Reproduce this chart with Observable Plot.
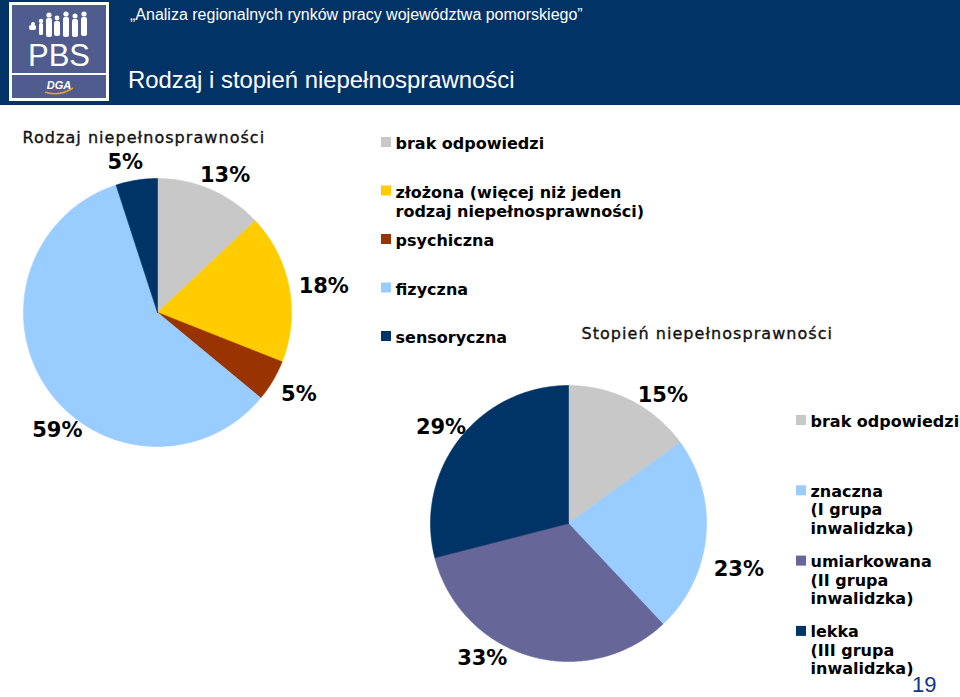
<!DOCTYPE html>
<html>
<head>
<meta charset="utf-8">
<script src="https://cdn.jsdelivr.net/npm/d3@7"></script>
<script src="https://cdn.jsdelivr.net/npm/@observablehq/plot@0.6"></script>
<style>
  body { margin: 0; background: #fff; }
  #slide { position: relative; width: 960px; height: 697px; overflow: hidden; background: #fff; }
  #band { position: absolute; left: 0; top: 0; width: 960px; height: 105px; background: #023366; }
  #logo { position: absolute; left: 9px; top: 2px; }
  .hdr { position: absolute; color: #fff; font-family: "Liberation Sans", Arial, sans-serif; white-space: nowrap; }
  #hdr1 { left: 130px; top: 6px; font-size: 16px; }
  #hdr2 { left: 128px; top: 66px; font-size: 23.9px; }
  #pageno { position: absolute; left: 912px; top: 672px; font-family: "Liberation Sans", Arial, sans-serif; font-size: 22px; color: #12358a; }
  #chart { position: absolute; left: 0; top: 0; }
</style>
</head>
<body>
<div id="slide">
  <div id="band"></div>
  <svg id="logo" width="101" height="100" viewBox="0 0 101 100">
    <rect x="1.5" y="1.5" width="97" height="96" fill="#4f5c8d" stroke="#fff" stroke-width="3"/>
    <line x1="3" y1="72" x2="97" y2="72" stroke="#fff" stroke-width="2"/>
    <g fill="#fff">
      <circle cx="24" cy="22" r="2"/><rect x="20" y="23" width="7" height="5" rx="2"/>
      <circle cx="32" cy="19" r="2.2"/><rect x="30" y="21" width="4" height="12" rx="1.5"/>
      <circle cx="40" cy="13" r="2.6"/><rect x="37" y="16" width="6" height="19" rx="2"/>
      <circle cx="48" cy="16" r="2.4"/><rect x="45" y="19" width="6" height="15" rx="2"/>
      <circle cx="57" cy="12" r="2.6"/><rect x="54" y="15" width="6" height="20" rx="2"/>
      <circle cx="66" cy="14" r="2.5"/><rect x="63" y="17" width="6" height="18" rx="2"/>
      <circle cx="75" cy="12" r="2.6"/><rect x="72" y="15" width="6" height="19" rx="2"/>
    </g>
    <text x="50" y="64" text-anchor="middle" fill="#fff" font-family="Liberation Sans, Arial, sans-serif" font-size="31">PBS</text>
    <path d="M36 90 Q50 95 64 86" fill="none" stroke="#e8a020" stroke-width="1.6"/>
    <text x="50" y="87" text-anchor="middle" fill="#fff" font-family="Liberation Sans, Arial, sans-serif" font-size="11" font-weight="bold" font-style="italic">DGA</text>
  </svg>
  <div class="hdr" id="hdr1">„Analiza regionalnych rynków pracy województwa pomorskiego”</div>
  <div class="hdr" id="hdr2">Rodzaj i stopień niepełnosprawności</div>
  <div id="chart"></div>
  <div id="pageno">19</div>
</div>
<script>
// ---- data ----
const kindTitle = "Rodzaj niepełnosprawności";
const kindCategories = ["brak odpowiedzi", "złożona (więcej niż jeden\nrodzaj niepełnosprawności)", "psychiczna", "fizyczna", "sensoryczna"];
const kindValues = [13, 18, 5, 59, 5];

const degreeTitle = "Stopień niepełnosprawności";
const degreeCategories = ["brak odpowiedzi", "znaczna\n(I grupa\ninwalidzka)", "umiarkowana\n(II grupa\ninwalidzka)", "lekka\n(III grupa\ninwalidzka)"];
const degreeValues = [15, 23, 33, 29];

// ---- styles / layout ----
const kindColors = ["#c8c8c8", "#ffcc00", "#993300", "#99ccff", "#003366"];
const degreeColors = ["#c8c8c8", "#99ccff", "#666699", "#003366"];

const pies = [
  {title: kindTitle, cats: kindCategories, values: kindValues, colors: kindColors,
   cx: 157, cy: 312, r: 134, labelR: 155,
   nudges: [[6, 5], [14, 3], [8, 3], [28, 31], [-8, 3]],
   titleX: 22, titleY: 137,
   legendX: 381, legendY0: 142, legendStep: 48.5, lineHeight: 1.19},
  {title: degreeTitle, cats: degreeCategories, values: degreeValues, colors: degreeColors,
   cx: 568, cy: 523, r: 138, labelR: 155,
   nudges: [[24, 10], [16, 31], [-43, -14], [-5, -1]],
   titleX: 581, titleY: 333,
   legendX: 796, legendY0: 420, legendStep: 70.3, lineHeight: 1.15}
];

const slicePts = [], labels = [], legendBoxes = [], legendTexts = [], titles = [];
pies.forEach((p, pi) => {
  const rows = p.cats.map((c, i) => ({cat: c, value: p.values[i], color: p.colors[i], i}));
  const arcs = d3.pie().sort(null).value(d => d.value)(rows);
  arcs.forEach(a => {
    const key = pi + "-" + a.data.i;
    const steps = Math.max(2, Math.ceil((a.endAngle - a.startAngle) / (Math.PI / 360)));
    slicePts.push({key, color: a.data.color, x: p.cx, y: p.cy});
    for (let s = 0; s <= steps; s++) {
      const t = a.startAngle + (a.endAngle - a.startAngle) * s / steps;
      slicePts.push({key, color: a.data.color, x: p.cx + p.r * Math.sin(t), y: p.cy - p.r * Math.cos(t)});
    }
    slicePts.push({key, color: a.data.color, x: p.cx, y: p.cy});
    const mid = (a.startAngle + a.endAngle) / 2;
    const n = p.nudges[a.data.i];
    labels.push({text: a.data.value + "%", x: p.cx + p.labelR * Math.sin(mid) + n[0], y: p.cy - p.labelR * Math.cos(mid) + n[1]});
    const ly = p.legendY0 + a.data.i * p.legendStep;
    legendBoxes.push({x1: p.legendX, x2: p.legendX + 10, y1: ly - 5, y2: ly + 5, color: a.data.color});
    legendTexts.push({text: a.data.cat, x: p.legendX + 14, y: ly - 7, pie: pi});
  });
  titles.push({text: p.title, x: p.titleX, y: p.titleY});
});

const chart = Plot.plot({
  width: 960, height: 697, margin: 0,
  x: {domain: [0, 960], range: [0, 960], axis: null},
  y: {domain: [0, 697], range: [0, 697], axis: null},
  color: {type: "identity"},
  style: {background: "transparent", overflow: "visible"},
  marks: [
    Plot.line(slicePts, {x: "x", y: "y", z: "key", fill: "color", stroke: "color", strokeWidth: 0.6}),
    Plot.text(labels, {x: "x", y: "y", text: "text", fontSize: 21, fontWeight: "bold", fontFamily: "DejaVu Sans", fill: "#000", textAnchor: "middle", lineAnchor: "middle"}),
    Plot.rect(legendBoxes, {x1: "x1", x2: "x2", y1: "y1", y2: "y2", fill: "color"}),
    Plot.text(legendTexts.filter(d => d.pie === 0), {x: "x", y: "y", text: "text", fontSize: 16, fontWeight: "bold", fontFamily: "DejaVu Sans", fill: "#000", textAnchor: "start", lineAnchor: "top", lineHeight: 1.19}),
    Plot.text(legendTexts.filter(d => d.pie === 1), {x: "x", y: "y", text: "text", fontSize: 16, fontWeight: "bold", fontFamily: "DejaVu Sans", fill: "#000", textAnchor: "start", lineAnchor: "top", lineHeight: 1.15}),
    Plot.text(titles, {x: "x", y: "y", text: "text", fontSize: 16, fontFamily: "DejaVu Sans", fill: "#111", stroke: "#111", strokeWidth: 0.35, textAnchor: "start", lineAnchor: "middle", className: "ptitle"})
  ]
});
document.getElementById("chart").appendChild(chart);
d3.select(chart).selectAll(".ptitle text").style("letter-spacing", "1.05px");
</script>
</body>
</html>
